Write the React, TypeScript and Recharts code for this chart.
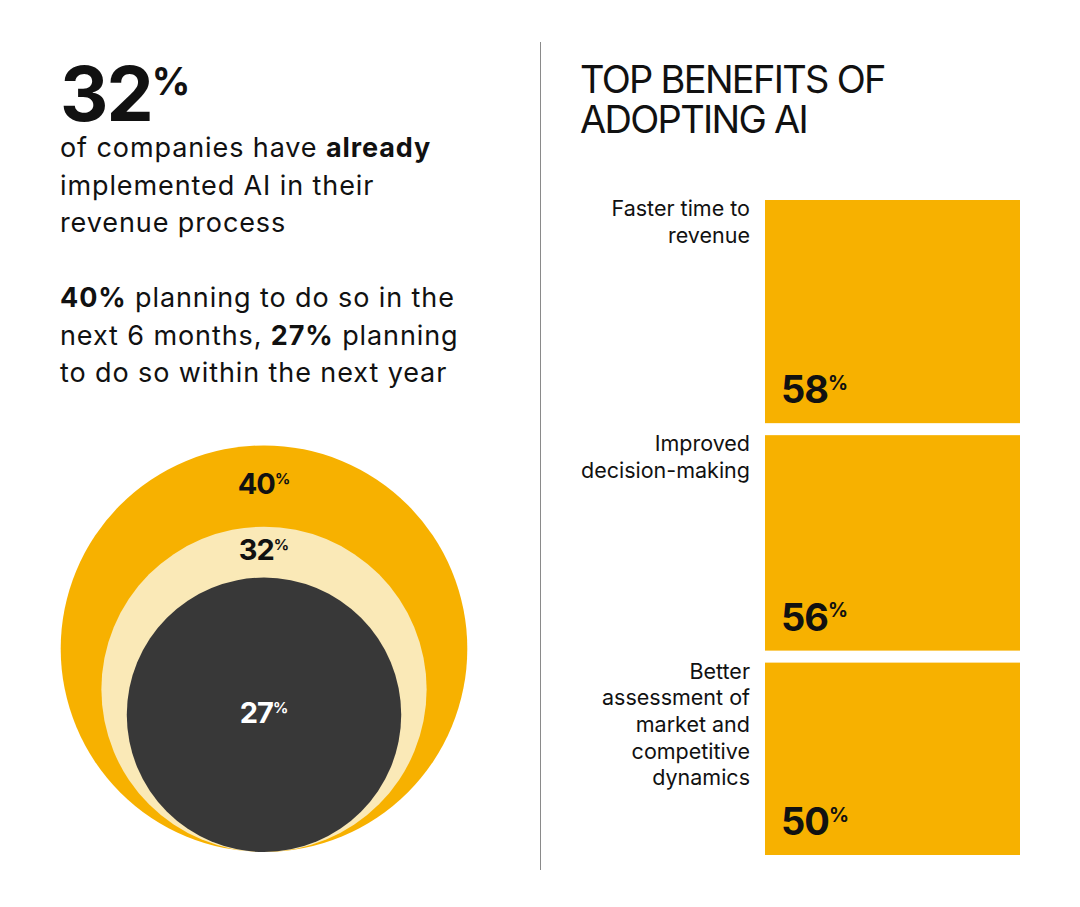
import React from 'react';
import { BarChart, Bar, XAxis, YAxis, ScatterChart, Scatter } from 'recharts';

// Left: share of companies by AI adoption stage (outer -> inner circle)
const adoptionStages = ['Planning in next 6 months', 'Already implemented', 'Planning within next year'];
const adoptionValues = [40, 32, 27];

// Right: top benefits of adopting AI (top -> bottom block)
const benefitKeys = ['faster', 'decision', 'market'];
const benefitLabels = [
  ['Faster time to', 'revenue'],
  ['Improved', 'decision-making'],
  ['Better', 'assessment of', 'market and', 'competitive', 'dynamics'],
];
const benefitValues = [58, 56, 50];

const titleLines = ['TOP BENEFITS OF', 'ADOPTING AI'];

const YELLOW = '#F7B100';
const PALE = '#FAE9B7';
const DARK = '#383838';
const INK = '#111111';
const FONT = 'Inter, "Noto Sans", sans-serif';

const circleFills = [YELLOW, PALE, DARK];
const circleInk = [INK, INK, '#ffffff'];

// circles chart geometry
const C_W = 460;
const C_H = 440;
const C_MARGIN = { top: 0, right: 0, bottom: 8, left: 0 };
const C_BOTTOM = C_H - C_MARGIN.bottom;

// bar stack geometry
const B_W = 460;
const B_H = 680;
const B_MARGIN = { top: 34, right: 0, bottom: 15, left: 205 };
const GAP = 12;

const circleData = adoptionStages.map((name, i) => ({ name, x: 0, y: adoptionValues[i] }));
// label sits in the middle of the visible ring, or the centre for the innermost circle
const circleLabelData = adoptionStages.map((name, i) => ({
  name,
  x: 0,
  y: i < adoptionValues.length - 1 ? adoptionValues[i] + adoptionValues[i + 1] : adoptionValues[i],
  value: adoptionValues[i],
}));

const benefitRow: Record<string, any> = { name: 'benefits' };
benefitKeys.forEach((k, i) => {
  benefitRow[k] = benefitValues[i];
});

const Pct = ({ x, y, value, size, color, anchor }: any) => (
  <text x={x} y={y} textAnchor={anchor} fill={color} fontFamily={FONT} fontWeight={700}>
    <tspan fontSize={size} letterSpacing={-1}>{value}</tspan>
    <tspan fontSize={size * 0.52} dy={-size * 0.727 * 0.48}>%</tspan>
  </text>
);

const CircleShape = (props: any) => {
  const { cx, cy, payload } = props;
  const i = adoptionStages.indexOf(payload.name);
  const r = C_BOTTOM - cy;
  return <circle cx={cx} cy={cy} r={r} fill={circleFills[i]} />;
};

const CircleLabel = (props: any) => {
  const { cx, cy, payload } = props;
  const i = adoptionStages.indexOf(payload.name);
  return <Pct x={cx} y={cy + 8} value={payload.value} size={29} color={circleInk[i]} anchor="middle" />;
};

const makeBlock = (i: number) => (props: any) => {
  const { x, y, width, height } = props;
  const shift = (benefitKeys.length - 1 - i) * GAP;
  const top = y - shift;
  return (
    <g>
      <rect x={x} y={top} width={width} height={height} fill={YELLOW} />
      <text x={x - 15} y={top + 16} textAnchor="end" fill={INK} fontFamily={FONT} fontSize={21.5}>
        {benefitLabels[i].map((line, j) => (
          <tspan key={j} x={x - 15} dy={j === 0 ? 0 : 26.7}>
            {line}
          </tspan>
        ))}
      </text>
      <Pct x={x + 16} y={top + height - 20} value={benefitValues[i]} size={38} color={INK} anchor="start" />
    </g>
  );
};

export default function App() {
  const body: React.CSSProperties = {
    position: 'absolute',
    left: 60,
    fontFamily: FONT,
    fontSize: 27,
    letterSpacing: 0.9,
    lineHeight: '37.5px',
    color: INK,
    margin: 0,
    whiteSpace: 'nowrap',
  };
  const title: React.CSSProperties = {
    position: 'absolute',
    left: 580,
    fontFamily: FONT,
    fontSize: 38,
    lineHeight: '38px',
    color: INK,
    letterSpacing: -1.7,
    whiteSpace: 'nowrap',
  };
  return (
    <div style={{ position: 'absolute', left: 0, top: 0, width: 1080, height: 907, background: '#fff', overflow: 'hidden' }}>
      <div style={{ position: 'absolute', left: 60, top: 56, fontFamily: FONT, fontWeight: 700, fontSize: 75, lineHeight: 1, color: INK, letterSpacing: -2 }}>
        <span>32</span>
        <span style={{ fontSize: 38, verticalAlign: 'top', position: 'relative', top: 6, letterSpacing: 0 }}>%</span>
      </div>
      <p style={{ ...body, top: 129 }}>
        of companies have <b>already</b>
        <br />
        implemented AI in their
        <br />
        revenue process
      </p>
      <p style={{ ...body, top: 279 }}>
        <b>40%</b> planning to do so in the
        <br />
        next 6 months, <b>27%</b> planning
        <br />
        to do so within the next year
      </p>

      <div style={{ position: 'absolute', left: 540, top: 42, width: 1, height: 828, background: '#8a8a8a' }} />

      {titleLines.map((line, i) => (
        <div key={line} style={{ ...title, top: 60 + i * 39.5 }}>
          {line}
        </div>
      ))}

      <div style={{ position: 'absolute', left: 34, top: 420 }}>
        <ScatterChart width={C_W} height={C_H} margin={C_MARGIN}>
          <XAxis type="number" dataKey="x" domain={[-1, 1]} hide />
          <YAxis type="number" dataKey="y" domain={[0, 85]} hide />
          <Scatter data={circleData} shape={CircleShape} isAnimationActive={false} />
          <Scatter data={circleLabelData} shape={CircleLabel} isAnimationActive={false} />
        </ScatterChart>
      </div>

      <div style={{ position: 'absolute', left: 560, top: 190 }}>
        <BarChart width={B_W} height={B_H} data={[benefitRow]} margin={B_MARGIN} barCategoryGap={0}>
          <XAxis type="category" dataKey="name" hide />
          <YAxis type="number" domain={[0, 'dataMax']} hide />
          {[...benefitKeys].reverse().map((k) => {
            const i = benefitKeys.indexOf(k);
            return <Bar key={k} dataKey={k} stackId="benefits" shape={makeBlock(i)} isAnimationActive={false} />;
          })}
        </BarChart>
      </div>
    </div>
  );
}
